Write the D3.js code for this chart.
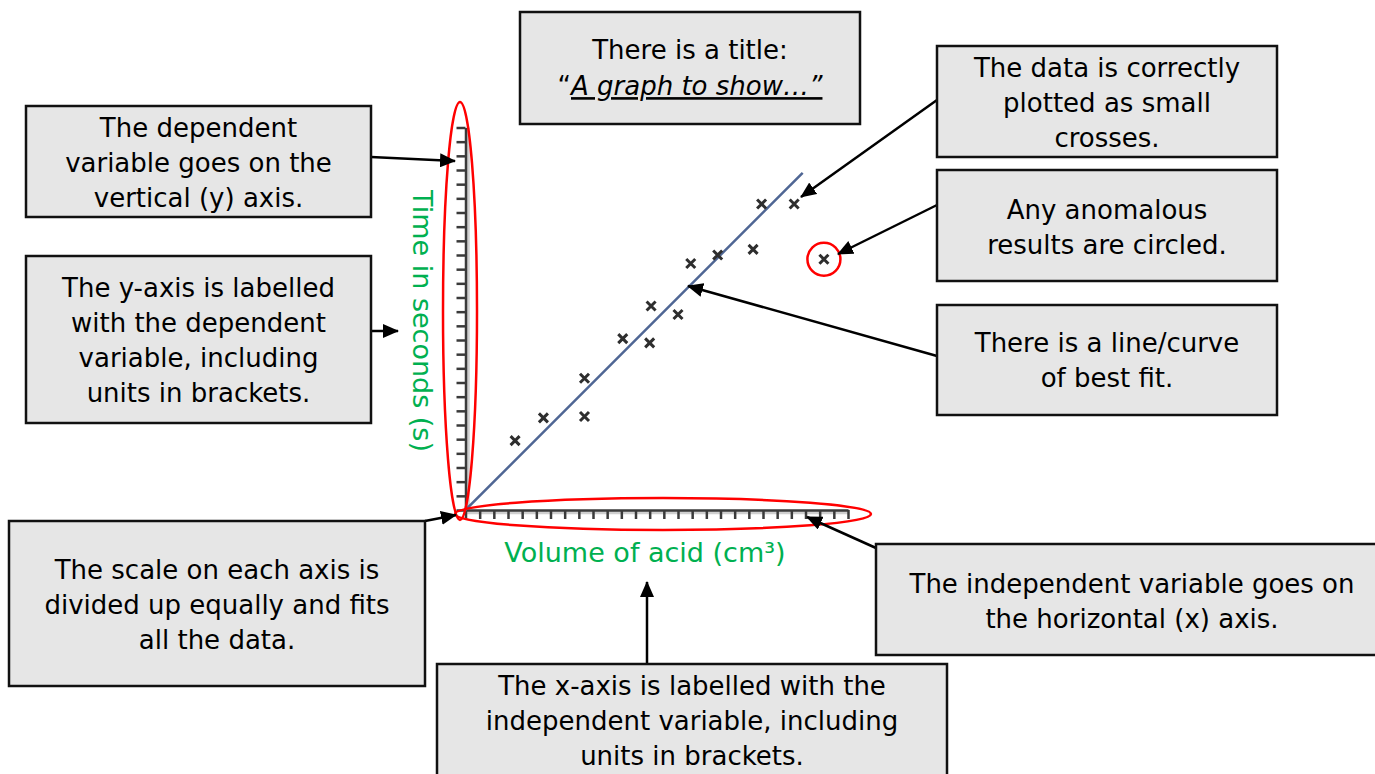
<!DOCTYPE html>
<html>
<head>
<meta charset="utf-8">
<script src="https://cdn.jsdelivr.net/npm/d3@7"></script>
<style>
  html, body { margin: 0; padding: 0; background: #fff; }
  svg { display: block; }
  .note text { font-family: 'Comic Sans MS', 'DejaVu Sans', sans-serif; font-size: 26px; fill: #000; }
  .lbl { font-family: 'Comic Sans MS', 'DejaVu Sans', sans-serif; font-size: 27px; fill: #00b050; }
</style>
</head>
<body>
<div class="graph"></div>
<script>
// plotted results (volume of acid vs time)
const volume = [3.5, 5.5, 8.4, 8.4, 11.1, 13.0, 13.1, 15.0, 15.9, 17.8, 20.3, 20.9, 23.2];
const time   = [4.9, 6.5, 9.3, 6.6, 12.1, 11.8, 14.4, 13.8, 17.4, 18.0, 18.4, 21.6, 21.6];
// anomalous result
const anomVolume = [25.3];
const anomTime = [17.7];
// line of best fit end points
const fitVolume = [0, 23.8];
const fitTime = [0, 23.8];
// axis scale: 27 equal divisions
const axisMax = 27;
const xLabel = "Volume of acid (cm³)";
const yLabel = "Time in seconds (s)";

// annotation texts
const notes = [
    ["The dependent", "variable goes on the", "vertical (y) axis."],
    ["The y-axis is labelled", "with the dependent", "variable, including", "units in brackets."],
    ["The scale on each axis is", "divided up equally and fits", "all the data."],
    ["The x-axis is labelled with the", "independent variable, including", "units in brackets."],
    ["The independent variable goes on", "the horizontal (x) axis."],
    ["The data is correctly", "plotted as small", "crosses."],
    ["Any anomalous", "results are circled."],
    ["There is a line/curve", "of best fit."]
];

// layout of the boxes: x, y, w, h, first line centre y, and arrow from -> to
const boxes = [
    { x: 26, y: 106, w: 345, h: 111, ty: 128, a: [371, 157, 455, 161] },
    { x: 26, y: 256, w: 345, h: 167, ty: 288, a: [371, 331, 398, 331] },
    { x: 9, y: 521, w: 416, h: 165, ty: 570, a: [425, 521, 456, 515] },
    { x: 437, y: 664, w: 510, h: 120, ty: 686, a: [647, 664, 647, 582] },
    { x: 876, y: 544, w: 510, h: 111, ty: 584, a: [876, 548, 807, 517] },
    { x: 937, y: 46, w: 340, h: 111, ty: 68, a: [937, 100, 801, 197] },
    { x: 937, y: 170, w: 340, h: 111, ty: 210, a: [937, 205, 838, 254] },
    { x: 937, y: 305, w: 340, h: 110, ty: 343, a: [937, 356, 688, 286] }
];

const W = 1375, H = 774;
const svg = d3.select(".graph").append("svg")
    .attr("width", W)
    .attr("height", H);

svg.append("defs").append("marker")
    .attr("id", "head")
    .attr("markerUnits", "userSpaceOnUse")
    .attr("viewBox", "0 0 16 14")
    .attr("refX", 15)
    .attr("refY", 7)
    .attr("markerWidth", 16)
    .attr("markerHeight", 14)
    .attr("orient", "auto")
    .append("path")
    .attr("d", "M0,0 L16,7 L0,14 Z")
    .attr("fill", "#000");

var x = d3.scaleLinear().domain([0, axisMax]).range([465.5, 848]);
var y = d3.scaleLinear().domain([0, axisMax]).range([510, 127.5]);

// soft shadow behind axes
svg.append("path")
    .attr("d", "M" + (x(0) + 2.5) + "," + y(axisMax) + "V" + (y(0) + 2.5) + "H" + x(axisMax))
    .attr("fill", "none")
    .attr("stroke", "#cfcfcf")
    .attr("stroke-width", 3.5);

svg.append("g")
    .attr("transform", "translate(0," + y(0) + ")")
    .call(d3.axisBottom(x).tickValues(d3.range(0, axisMax + 1)).tickSize(9).tickSizeOuter(0).tickFormat(""))
    .call(g => g.selectAll("path, line").attr("stroke", "#3a3a3a").attr("stroke-width", 2.5));

svg.append("g")
    .attr("transform", "translate(" + x(0) + ",0)")
    .call(d3.axisLeft(y).tickValues(d3.range(0, axisMax + 1)).tickSize(9).tickSizeOuter(0).tickFormat(""))
    .call(g => g.selectAll("path, line").attr("stroke", "#3a3a3a").attr("stroke-width", 2.5));

// axis labels
svg.append("text")
    .attr("class", "lbl")
    .attr("x", 645)
    .attr("y", 562)
    .attr("text-anchor", "middle")
    .text(xLabel);

svg.append("text")
    .attr("class", "lbl")
    .attr("transform", "translate(413,321) rotate(90)")
    .attr("text-anchor", "middle")
    .text(yLabel);

// line of best fit
svg.append("path")
    .datum(d3.range(fitVolume.length))
    .attr("fill", "none")
    .attr("stroke", "#4f6694")
    .attr("stroke-width", 2.5)
    .attr("d", d3.line()
        .x(function (i) { return x(fitVolume[i]) })
        .y(function (i) { return y(fitTime[i]) })
    );

// crosses
const cross = (px, py) => "M" + (px - 4.5) + "," + (py - 4.5) + "L" + (px + 4.5) + "," + (py + 4.5) +
    "M" + (px + 4.5) + "," + (py - 4.5) + "L" + (px - 4.5) + "," + (py + 4.5);

svg.selectAll(".pt")
    .data(volume.map((v, i) => [v, time[i]]).concat(anomVolume.map((v, i) => [v, anomTime[i]])))
    .enter()
    .append("path")
    .attr("class", "pt")
    .attr("d", d => cross(x(d[0]), y(d[1])))
    .attr("stroke", "#2e2e2e")
    .attr("stroke-width", 3);

// red rings
svg.selectAll(".anom")
    .data(anomVolume.map((v, i) => [v, anomTime[i]]))
    .enter()
    .append("circle")
    .attr("cx", d => x(d[0]))
    .attr("cy", d => y(d[1]))
    .attr("r", 16.5)
    .attr("fill", "none")
    .attr("stroke", "red")
    .attr("stroke-width", 2.5);

svg.append("ellipse")
    .attr("cx", 460).attr("cy", 311).attr("rx", 17).attr("ry", 209)
    .attr("fill", "none").attr("stroke", "red").attr("stroke-width", 2.5);

svg.append("ellipse")
    .attr("cx", 663).attr("cy", 514).attr("rx", 208).attr("ry", 16)
    .attr("fill", "none").attr("stroke", "red").attr("stroke-width", 2.5);

// annotation boxes with arrows
const note = svg.selectAll(".note")
    .data(boxes)
    .enter()
    .append("g")
    .attr("class", "note");

note.append("line")
    .attr("x1", d => d.a[0]).attr("y1", d => d.a[1])
    .attr("x2", d => d.a[2]).attr("y2", d => d.a[3])
    .attr("stroke", "#000")
    .attr("stroke-width", 2.5)
    .attr("marker-end", "url(#head)");

note.append("rect")
    .attr("x", d => d.x).attr("y", d => d.y)
    .attr("width", d => d.w).attr("height", d => d.h)
    .attr("fill", "#e6e6e6")
    .attr("stroke", "#111")
    .attr("stroke-width", 2.5);

note.each(function (d, i) {
    const cx = d.x + d.w / 2;
    const cxText = i === 4 ? 1132 : cx;
    d3.select(this).selectAll("text")
        .data(notes[i])
        .enter()
        .append("text")
        .attr("x", cxText)
        .attr("y", (t, j) => d.ty + j * 35)
        .attr("dy", "0.35em")
        .attr("text-anchor", "middle")
        .text(t => t);
});

// title box
const tg = svg.append("g").attr("class", "note");
tg.append("rect")
    .attr("x", 520).attr("y", 12).attr("width", 340).attr("height", 112)
    .attr("fill", "#e6e6e6").attr("stroke", "#111").attr("stroke-width", 2.5);
tg.append("text")
    .attr("x", 690).attr("y", 50).attr("dy", "0.35em")
    .attr("text-anchor", "middle")
    .text("There is a title:");
const t2 = tg.append("text")
    .attr("x", 690).attr("y", 86).attr("dy", "0.35em")
    .attr("text-anchor", "middle");
t2.append("tspan").text("“");
t2.append("tspan")
    .style("text-decoration", "underline")
    .style("font-style", "italic")
    .text("A graph to show…”");
</script>
</body>
</html>
